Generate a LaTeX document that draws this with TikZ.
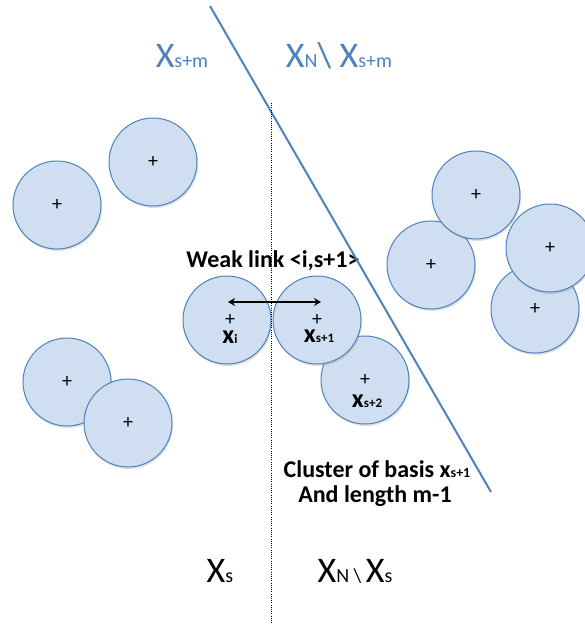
\documentclass[tikz,border=0pt]{standalone}
\usepackage{fontspec}
\setmainfont{Carlito}
\usetikzlibrary{shadows,arrows.meta}
\definecolor{ablue}{RGB}{79,129,189}
\definecolor{bfill}{RGB}{207,222,240}
\newcommand{\fsz}[1]{\fontsize{#1}{#1}\selectfont}
\begin{document}
\begin{tikzpicture}[x=1pt,y=-1pt,
  bub/.style={circle,draw=ablue,line width=1pt,fill=bfill,minimum size=88pt,inner sep=0pt,
    font=\fsz{20},drop shadow={opacity=0.25,shadow xshift=1pt,shadow yshift=-2pt}},
  plus/.style={inner sep=0pt,font=\fsz{20}},
  lbl/.style={anchor=base,inner sep=0pt,font=\bfseries\fsz{26}},
  bold/.style={anchor=base,inner sep=0pt,font=\bfseries\fsz{24},align=center},
  big/.style={anchor=base,inner sep=0pt,font=\fsz{36}},
  sepline/.style={draw=ablue,line width=2pt},
  dotline/.style={line width=0.8pt,dash pattern=on 1pt off 1.2pt}]
\useasboundingbox (0,0) rectangle (584,624);
% left circles
\node[bub] (c1) at (57,205) {+};
\node[bub] (c2) at (153,162) {+};
\node[bub] (c6) at (67,382) {+};
\node[bub] (c7) at (128,423) {+};
% chain
\node[bub] (c5) at (365,380) {};
\node[bub] (c4) at (317,320) {};
\node[bub] (c3) at (227,320) {};
% right circles
\node[bub] (cB) at (431,265) {+};
\node[bub] (cA) at (476,195) {+};
\node[bub] (cD) at (535,309) {+};
\node[bub] (cC) at (550,248) {+};
% pluses and labels of chain
\node[plus] (p3) at (230,320) {+};
\node[plus] (p4) at (317,320) {+};
\node[plus] (p5) at (365,380) {+};
\node[lbl] (l3) at (230,343) {x{\fsz{13}i}};
\node[lbl] (l4) at (319,342) {x{\fsz{13}s+1}};
\node[lbl] (l5) at (367,407) {x{\fsz{13}s+2}};
% weak link
\coordinate (wa) at (228,302);
\coordinate (wb) at (321,302);
\draw[line width=1.6pt,{Stealth[length=7pt,width=8pt]}-{Stealth[length=7pt,width=8pt]}] (wa) -- (wb);
\node[bold] (wl) at (273,267) {Weak link <i,s+1>};
% separation lines
\coordinate (s1) at (210,6);
\coordinate (s2) at (491,492);
\draw[sepline] (s1) -- (s2);
\coordinate (d1) at (271,103);
\coordinate (d2) at (271,624);
\draw[dotline] (d1) -- (d2);
% cluster text
\node[bold] (cl1) at (377,477) {Cluster of basis x{\fsz{14}s+1}};
\node[bold] (cl2) at (375,502) {And length m-1};
% region labels
\node[big,text=ablue] (t1) at (182,67) {X{\fsz{20}s+m}};
\node[big,text=ablue] (t2) at (339,67) {X{\fsz{20}N}\textbackslash\ X{\fsz{20}s+m}};
\node[big] (b1) at (220,582) {X{\fsz{20}s}};
\node[big] (b2) at (355,582) {X{\fsz{20}N \textbackslash\ }X{\fsz{20}s}};
\end{tikzpicture}
\end{document}
